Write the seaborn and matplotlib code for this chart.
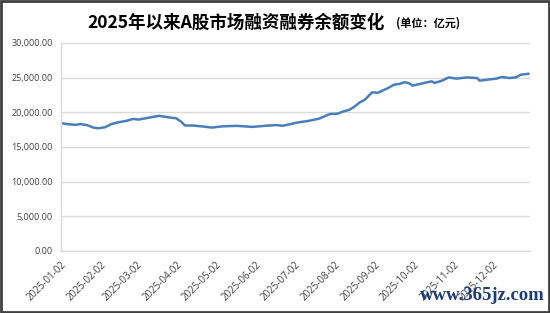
import matplotlib
matplotlib.use("Agg")
import matplotlib.pyplot as plt
import matplotlib.dates as mdates
from matplotlib.ticker import FuncFormatter, MultipleLocator
from matplotlib.patches import Rectangle
import seaborn as sns
import pandas as pd

dates = ["2025-01-02", "2025-01-07", "2025-01-13", "2025-01-17", "2025-01-21", "2025-01-23",
         "2025-01-27", "2025-01-31", "2025-02-05", "2025-02-10", "2025-02-15", "2025-02-21",
         "2025-02-27", "2025-03-03", "2025-03-10", "2025-03-19", "2025-03-27", "2025-04-01",
         "2025-04-05", "2025-04-08", "2025-04-14", "2025-04-22", "2025-04-29", "2025-05-07",
         "2025-05-18", "2025-05-30", "2025-06-10", "2025-06-18", "2025-06-22", "2025-06-28",
         "2025-07-03", "2025-07-13", "2025-07-21", "2025-07-29", "2025-08-04", "2025-08-08",
         "2025-08-13", "2025-08-17", "2025-08-21", "2025-08-25", "2025-08-31", "2025-09-04",
         "2025-09-11", "2025-09-17", "2025-09-21", "2025-09-25", "2025-09-29", "2025-10-01",
         "2025-10-07", "2025-10-12", "2025-10-16", "2025-10-18", "2025-10-24", "2025-10-29",
         "2025-11-04", "2025-11-12", "2025-11-20", "2025-11-22", "2025-11-28", "2025-12-05",
         "2025-12-09", "2025-12-15", "2025-12-20", "2025-12-24", "2025-12-30"]
balance = [18450, 18300, 18200, 18300, 18200, 18100,
           17800, 17700, 17850, 18300, 18550, 18750,
           19050, 18950, 19200, 19500, 19250, 19150,
           18650, 18100, 18100, 17950, 17800, 17980,
           18050, 17900, 18070, 18170, 18050, 18270,
           18500, 18780, 19100, 19750, 19800, 20100,
           20350, 20800, 21400, 21800, 22900, 22800,
           23400, 24000, 24100, 24350, 24150, 23850,
           24100, 24320, 24470, 24240, 24570, 25040,
           24860, 25040, 24950, 24570, 24710, 24860,
           25100, 24950, 25040, 25430, 25560]
tick_dates = ["2025-01-02", "2025-02-02", "2025-03-02", "2025-04-02", "2025-05-02", "2025-06-02",
              "2025-07-02", "2025-08-02", "2025-09-02", "2025-10-02", "2025-11-02", "2025-12-02"]
title_main = "2025年以来A股市场融资融券余额变化"
title_unit = "(单位：亿元)"
watermark = "www.365jz.com"

df = pd.DataFrame({"date": pd.to_datetime(dates), "balance": balance})

sns.set_style("white")
plt.rcParams['font.family'] = ['Noto Sans CJK SC', 'DejaVu Sans']

fig = plt.figure(figsize=(5.5, 3.13), dpi=100)
ax = fig.add_axes([61/550, 1-251/313, (530-61)/550, (251-43)/313])

sns.lineplot(data=df, x="date", y="balance", ax=ax, color="#4a7ebb", linewidth=1.8)

ax.set_ylim(0, 30000)
ax.set_xlim(pd.Timestamp("2025-01-02"), pd.Timestamp("2025-12-31"))
ax.yaxis.set_major_locator(MultipleLocator(5000))
ax.yaxis.set_major_formatter(FuncFormatter(lambda v, p: f"{v:,.2f}"))
ax.set_xticks(pd.to_datetime(tick_dates))
ax.set_xticklabels(tick_dates, rotation=45, ha="right", rotation_mode="anchor")
ax.grid(axis="y", color="#d9d9d9", linewidth=1.0)
ax.set_axisbelow(True)
ax.set_xlabel("")
ax.set_ylabel("")
for s in ["top", "right"]:
    ax.spines[s].set_visible(False)
for s in ["left", "bottom"]:
    ax.spines[s].set_color("#d9d9d9")
    ax.spines[s].set_linewidth(1.0)
ax.tick_params(axis="both", which="major", labelsize=6.5, colors="#d9d9d9",
               labelcolor="#404040", length=3, width=1.0, direction="out", pad=3)
ax.tick_params(axis="x", labelsize=7)
for lbl in ax.get_xticklabels() + ax.get_yticklabels():
    lbl.set_family(['Open Sans', 'DejaVu Sans'])

fig.text(0.158, 0.928, title_main, fontsize=12.6, fontweight="bold", ha="left", va="center",
         color="#000000")
fig.text(0.72, 0.925, title_unit, fontsize=8, fontweight="bold", ha="left", va="center",
         color="#000000")
fig.text(0.99, 0.055, watermark, fontsize=13.5, fontweight="bold", ha="right", va="center",
         color="#1a3a7a", family=['Liberation Serif', 'DejaVu Serif'])

fig.patches.append(Rectangle((0.002, 0.003), 0.996, 0.994, transform=fig.transFigure,
                             fill=False, edgecolor="#404040", linewidth=2.0))

fig.savefig("out.png", dpi=100)
